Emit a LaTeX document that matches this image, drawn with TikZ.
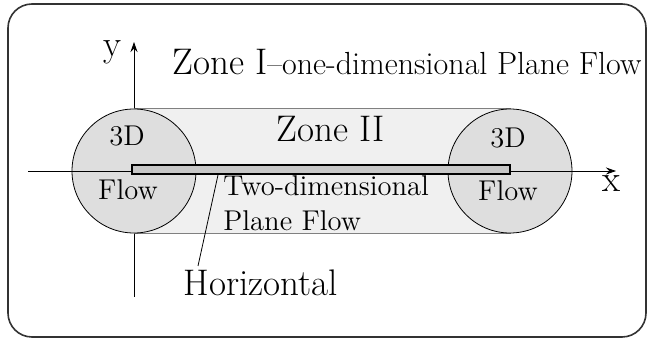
\documentclass[tikz,border=0pt]{standalone}
\usetikzlibrary{arrows.meta}
\newcommand{\zonefont}{\fontsize{18.5}{21}\selectfont}
\newcommand{\flowfont}{\fontsize{14.3}{17.5}\selectfont}
\begin{document}
\begin{tikzpicture}[x=0.5pt,y=-0.5pt,>={Stealth[length=5pt,width=3.5pt]}]
\useasboundingbox (0,0) rectangle (650,342);
\draw[black!80, line width=0.8pt, rounded corners=12pt] (8,4) rectangle (646,337);

\coordinate (o)  at (134,171) ;\coordinate (c2) at (510,171) ;
\coordinate (ytop) at (134,42) ;\coordinate (ybot) at (134,297) ;
\coordinate (xl) at (28,171) ;\coordinate (xr) at (616,171) ;

\draw[black, thin, ->] (ybot) -- (ytop);
\draw[gray, thin, fill=black!6] (134,108) rectangle (510,233);
\draw[black, thin, fill=black!13] (o) circle (62);
\draw[black, thin, fill=black!13] (c2) circle (62);
\draw[black, thin, ->] (xl) -- (xr);
\draw[black, line width=1pt, fill=black!22] (132,165) rectangle (510,174);

\coordinate (p1) at (218,175) ;\coordinate (p2) at (198,266) ;
\draw[black, thin] (p1) -- (p2);

\node[anchor=base] (ylab) at (112,57) {\zonefont y};
\node[anchor=base] (xlab) at (611,192) {\zonefont x};
\node[anchor=base west, inner sep=0] (zone1) at (172,75) {\zonefont Zone I\fontsize{16}{18}\selectfont--one-dimensional Plane Flow};
\node[anchor=base] (zone2) at (331,142) {\zonefont Zone II};
\node[anchor=base] (d3l) at (127,146) {\flowfont 3D};
\node[anchor=base] (d3r) at (508,148) {\flowfont 3D};
\node[anchor=base] (fll) at (128,200) {\flowfont Flow};
\node[anchor=base] (flr) at (508,201) {\flowfont Flow};
\node[anchor=base west, inner sep=0] (two) at (223,196) {\flowfont Two-dimensional};
\node[anchor=base west, inner sep=0] (plane) at (223,231) {\flowfont Plane Flow};
\node[anchor=base west, inner sep=0] (horiz) at (183,296) {\zonefont Horizontal};
\end{tikzpicture}
\end{document}
